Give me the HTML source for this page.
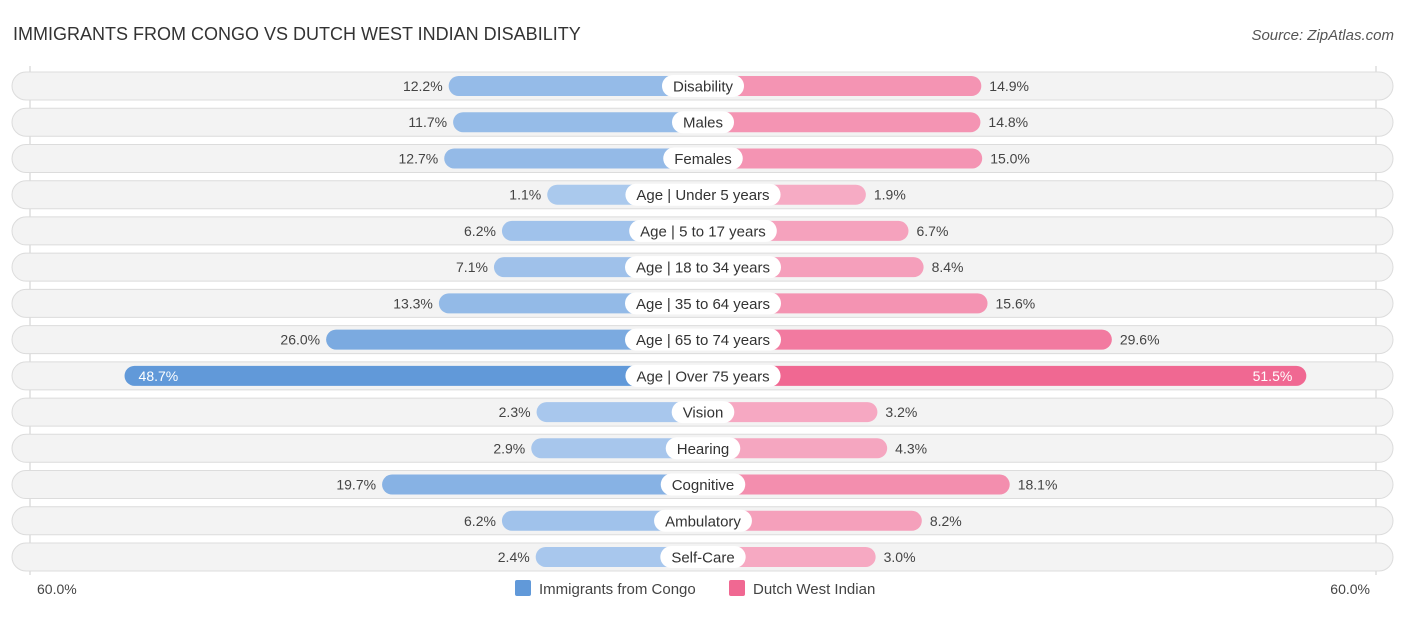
<!DOCTYPE html>
<html><head><meta charset="utf-8"><style>
body{margin:0;background:#fff;width:1406px;height:612px;overflow:hidden;font-family:"Liberation Sans",sans-serif;}
</style></head><body>
<svg id="c" width="1406" height="612" xmlns="http://www.w3.org/2000/svg">
<text x="13" y="40" font-size="18" fill="#333">IMMIGRANTS FROM CONGO VS DUTCH WEST INDIAN DISABILITY</text>
<text x="1394" y="40" font-size="15" fill="#555" font-style="italic" text-anchor="end">Source: ZipAtlas.com</text>
<line x1="30" y1="66" x2="30" y2="575" stroke="#ccc"/>
<line x1="1376" y1="66" x2="1376" y2="575" stroke="#ccc"/>
<g id="rows"></g>
<text x="37" y="594" font-size="14" fill="#444">60.0%</text>
<text x="1370" y="594" font-size="14" fill="#444" text-anchor="end">60.0%</text>
<rect x="515" y="580" width="16" height="16" rx="2" fill="#6199d9"/>
<text x="539" y="594" font-size="15" fill="#444">Immigrants from Congo</text>
<rect x="729" y="580" width="16" height="16" rx="2" fill="#f06892"/>
<text x="753" y="594" font-size="15" fill="#444">Dutch West Indian</text>
</svg>
<script>
const categories=["Disability","Males","Females","Age | Under 5 years","Age | 5 to 17 years","Age | 18 to 34 years","Age | 35 to 64 years","Age | 65 to 74 years","Age | Over 75 years","Vision","Hearing","Cognitive","Ambulatory","Self-Care"];
const congo=[12.2,11.7,12.7,1.1,6.2,7.1,13.3,26.0,48.7,2.3,2.9,19.7,6.2,2.4];
const dutch=[14.9,14.8,15.0,1.9,6.7,8.4,15.6,29.6,51.5,3.2,4.3,18.1,8.2,3.0];
const NS="http://www.w3.org/2000/svg";
const cx=703, off=146, k=8.88, y0=86, dy=36.23;
const g=document.getElementById('rows');
function mk(t,a){const e=document.createElementNS(NS,t);for(const p in a)e.setAttribute(p,a[p]);return e;}
function mix(a,b,t){return 'rgb('+a.map((v,i)=>Math.round(v+(b[i]-v)*t)).join(',')+')';}
const bl=[172,202,238],bs=[97,153,217],pl=[246,174,198],ps=[240,104,146];
categories.forEach((c,i)=>{
 const y=y0+i*dy;
 const bg=mk('rect',{x:12,y:y-14,width:1381,height:28,rx:14,fill:'#f3f3f3',stroke:'#dcdcdc'});
 
 
 g.appendChild(bg);
 const wl=off+congo[i]*k, wr=off+dutch[i]*k;
 const tl=Math.min(1,congo[i]/40), tr=Math.min(1,dutch[i]/40);
 const b1=mk('rect',{x:cx-wl,y:y-10,width:wl,height:20,rx:10,fill:mix(bl,bs,tl)});
 
 
 g.appendChild(b1);
 const b2=mk('rect',{x:cx,y:y-10,width:wr,height:20,rx:10,fill:mix(pl,ps,tr)});
 
 
 g.appendChild(b2);
 const lb=mk('rect',{y:y-11,height:22,rx:11,fill:'#fff'});
 
 
 g.appendChild(lb);
 const lt=mk('text',{x:cx,y:y+5.5,'font-size':15,fill:'#333','text-anchor':'middle'});
 lt.textContent=c;
 
 
 g.appendChild(lt);
 const lw=lt.getComputedTextLength()+22;
 lb.setAttribute('x',cx-lw/2);
 lb.setAttribute('width',lw);
 const inL=congo[i]>40, inR=dutch[i]>40;
 const vl=mk('text',{x:inL?cx-wl+14:cx-wl-6,y:y+5,'font-size':14,fill:inL?'#fff':'#444','text-anchor':inL?'start':'end'});
 vl.textContent=congo[i].toFixed(1)+'%';
 
 
 g.appendChild(vl);
 const vr=mk('text',{x:inR?cx+wr-14:cx+wr+8,y:y+5,'font-size':14,fill:inR?'#fff':'#444','text-anchor':inR?'end':'start'});
 vr.textContent=dutch[i].toFixed(1)+'%';
 
 
 g.appendChild(vr);
});
</script>
</body></html>
